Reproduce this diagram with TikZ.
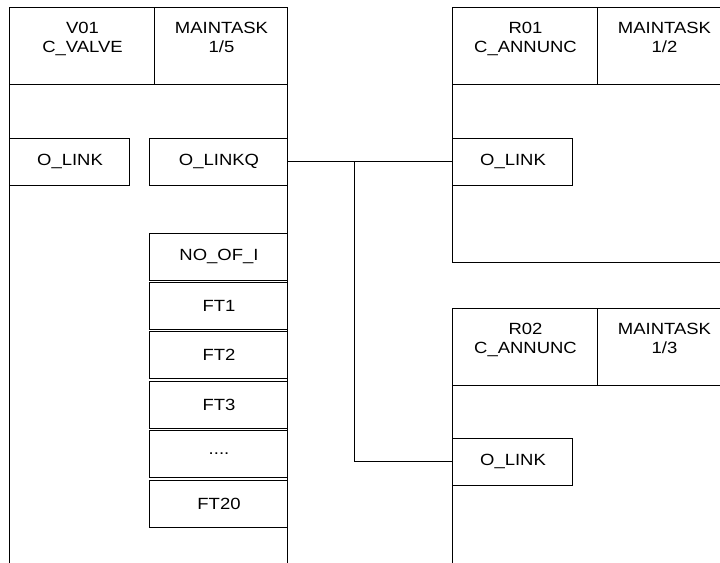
\documentclass[tikz,border=0pt]{standalone}
\usepackage{fontspec}
\setmainfont[FakeStretch=1.14]{Liberation Sans}
\usetikzlibrary{positioning}

\begin{document}
\begin{tikzpicture}[x=0.5pt, y=-0.5pt, line width=0.5pt,
  font=\fontsize{8.1}{9.8}\selectfont,
  headcell/.style={draw, anchor=north west, inner sep=0pt, outer sep=0pt,
    minimum height=38.5pt},
  headtext/.style={anchor=north, align=center, inner sep=0pt, yshift=-7.2pt},
  portbox/.style={draw, anchor=north west, inner sep=0pt, outer sep=0pt,
    minimum height=23.5pt},
  stackbox/.style={portbox, anchor=north, minimum width=69pt}]

  \useasboundingbox (0,0) rectangle (720,563);
  \clip (0,0) rectangle (720,563);

  % ── V01 : C_VALVE ────────────────────────────────────────────────
  \node[headcell, minimum width=72.5pt] (vname) at (10,7) {};
  \node[headcell, minimum width=66.5pt] (vtask) at (vname.north east) {};
  \node[headtext] (vnametxt) at (vname.north) {V01\\C\_VALVE};
  \node[headtext] (vtasktxt) at (vtask.north) {MAINTASK\\1/5};
  \draw (vname.south west) -- ++(0,520);
  \draw (vtask.south east) -- ++(0,520);

  \node[portbox, minimum width=60pt] (vlink)  at (10,138)  {O\_LINK};
  \node[portbox, minimum width=69pt] (vlinkq) at (150,138) {O\_LINKQ};

  % parameter stack
  \node[stackbox] (noofi) at (219,233) {NO\_OF\_I};
  \node[stackbox, below=1.2pt of noofi] (ft1)  {FT1};
  \node[stackbox, below=1.2pt of ft1]   (ft2)  {FT2};
  \node[stackbox, below=1.2pt of ft2]   (ft3)  {FT3};
  \node[stackbox, below=1.2pt of ft3]   (dots) {....};
  \node[stackbox, below=1.2pt of dots]  (ft20) {FT20};

  % ── R01 : C_ANNUNC ───────────────────────────────────────────────
  \node[headcell, minimum width=72.5pt] (r1name) at (453,7) {};
  \node[headcell, minimum width=66.5pt] (r1task) at (r1name.north east) {};
  \node[headtext] (r1nametxt) at (r1name.north) {R01\\C\_ANNUNC};
  \node[headtext] (r1tasktxt) at (r1task.north) {MAINTASK\\1/2};
  \draw (r1name.south west) -- (453,262) -- (731,262) -- (r1task.south east);

  \node[portbox, minimum width=60pt] (r1link) at (453,138) {O\_LINK};

  % ── R02 : C_ANNUNC ───────────────────────────────────────────────
  \node[headcell, minimum width=72.5pt] (r2name) at (453,308) {};
  \node[headcell, minimum width=66.5pt] (r2task) at (r2name.north east) {};
  \node[headtext] (r2nametxt) at (r2name.north) {R02\\C\_ANNUNC};
  \node[headtext] (r2tasktxt) at (r2task.north) {MAINTASK\\1/3};
  \draw (r2name.south west) -- ++(0,300);
  \draw (r2task.south east) -- ++(0,300);

  \node[portbox, minimum width=60pt] (r2link) at (453,438) {O\_LINK};

  % ── links ────────────────────────────────────────────────────────
  \draw (vlinkq.east) -- (r1link.west) coordinate[pos=0.406] (tee);
  \draw (tee) |- (r2link.west);

\end{tikzpicture}
\end{document}
